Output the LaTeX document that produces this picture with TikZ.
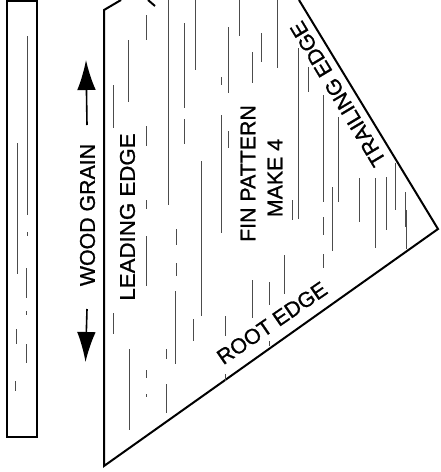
\documentclass[tikz,border=0pt]{standalone}
\usepackage{fontspec}
\setmainfont[FakeBold=1]{Liberation Sans}
\usetikzlibrary{arrows.meta}
\tikzset{
  outline/.style={draw, line width=1.5pt, line join=miter},
  grain/.style={draw=black!70, line width=0.45pt},
  caption/.style={font=\fontsize{16}{16}\selectfont, inner sep=0pt, align=center},
  grainarrow/.style={line width=1.2pt, -{Latex[length=22.5pt,width=14pt]}},
}
\begin{document}
\begin{tikzpicture}[x=0.75pt, y=-0.75pt]
\useasboundingbox (0,0) rectangle (441,472);

% strip
\coordinate (stripnw) at (7,1);
\coordinate (stripne) at (37,1);
\coordinate (stripsw) at (7,437);
\coordinate (stripse) at (37,437);
\draw[outline] (stripnw) -- (stripsw) -- (stripse) -- (stripne) -- cycle;

% fin
\coordinate (fintop) at (104,10);
\coordinate (finroot) at (104,466);
\coordinate (fintip) at (438,229);
\coordinate (cutleft) at (121,0);
\coordinate (cutright) at (299,0);
\draw[outline] (cutleft) -- (fintop) -- (finroot) -- (fintip) -- (cutright);

% cut off mark at the top
\coordinate (marka) at (148,0);
\coordinate (markb) at (155,6);
\draw[outline] (marka) -- (markb);

% grain lines of the strip
\foreach \x/\ya/\yb in {27/36/215, 27/232/236, 26.5/268/298, 26.5/311/315, 26.5/344/363,
    17/143/274, 16.5/329/344, 15.5/381/391}
  \draw[grain] (\x,\ya) -- (\x,\yb);

% grain lines of the fin
\foreach \x/\ya/\yb in {113/85/128, 113.5/313/334, 128/40/102, 129/349/430,
    146/15/40, 146/126/146, 146/200/209, 146/236/286, 146/370/378, 146/394/397,
    168/0/205, 166/349/359, 166/384/413,
    176/229/245, 176/263/276, 175/291/364,
    184/23/108, 184/119/144, 195/0/70, 201.5/161/316, 193/319/341,
    239/0/36, 228.5/27/93, 228.5/131/148, 221/77/85, 221/115/233,
    261/33/62, 252/52/83, 277/0/68, 298/48/219, 292.5/200/220,
    308/67/92, 323/95/202, 323/217/235, 323/254/268, 332.5/187/251,
    338.5/117/202, 359/178/222, 375/178/248, 386/177/230, 395/163/210,
    405/192/227, 406.5/210/249,
    284.5/255/294, 252.5/280/318, 269/282/305, 269/341/346, 225/316/336, 225/374/381}
  \draw[grain] (\x,\ya) -- (\x,\yb);

% arrows
\coordinate (upfrom) at (87,125);
\coordinate (upto) at (86,60);
\coordinate (downfrom) at (87,309);
\coordinate (downto) at (85.5,362);
\draw[grainarrow] (upfrom) -- (upto);
\draw[grainarrow] (downfrom) -- (downto);

% labels
\node[caption, rotate=90] (woodgrain) at (87.5,215) {WOOD GRAIN};
\node[caption, rotate=90, xscale=1.045] (leading) at (127.5,217) {LEADING EDGE};
\node[caption, rotate=90] (finpattern) at (248,173.5) {FIN PATTERN};
\node[caption, rotate=90] (make) at (275,178) {MAKE 4};
\node[caption, rotate=34.5] (root) at (272,323) {ROOT EDGE};
\node[caption, rotate=121] (trailing) at (338,94) {TRAILING EDGE};
\end{tikzpicture}
\end{document}
